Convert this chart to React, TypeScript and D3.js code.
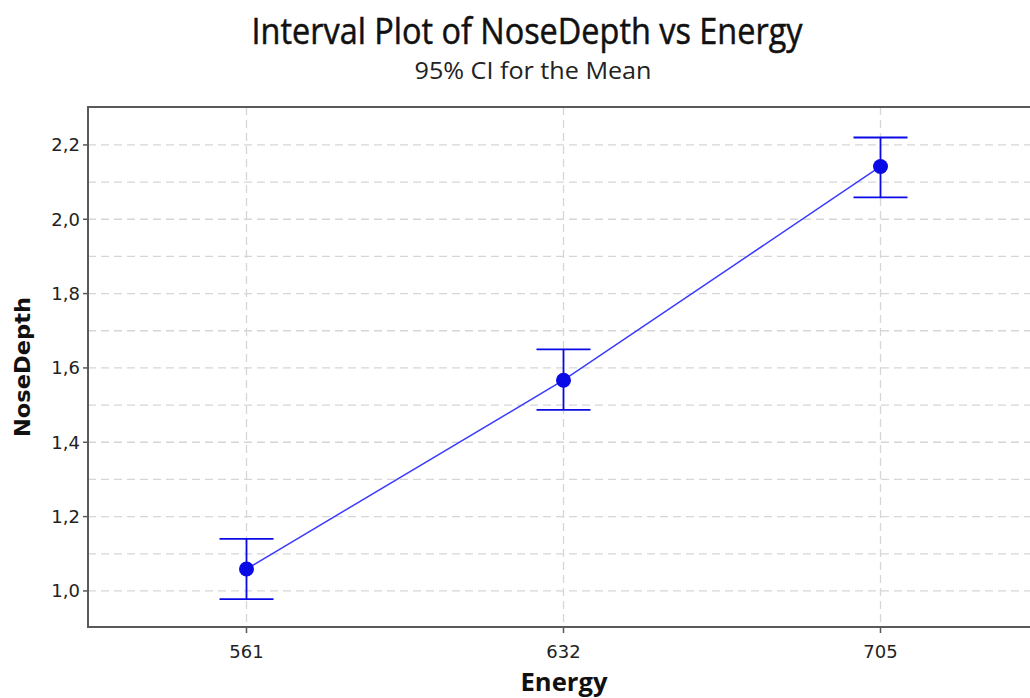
import React, { useEffect, useRef } from "react";
import * as d3 from "d3";

// Energy levels and the 95% confidence intervals of NoseDepth at each level
const energyLevels = ["561", "632", "705"];
const meanDepth = [1.059, 1.567, 2.142];
const lowerCI = [0.978, 1.487, 2.059];
const upperCI = [1.14, 1.65, 2.22];
const yTicks = [1.0, 1.2, 1.4, 1.6, 1.8, 2.0, 2.2];
const yMinorGrid = [1.1, 1.3, 1.5, 1.7, 1.9, 2.1];

const W = 1030;
const H = 698;
const margin = { left: 88, top: 107, right: -9, bottom: 71 };

export default function App() {
  const ref = useRef<SVGSVGElement | null>(null);

  useEffect(() => {
    const svg = d3.select(ref.current);
    svg.selectAll("*").remove();

    const x = d3
      .scaleBand<string>()
      .domain(energyLevels)
      .range([margin.left, W - margin.right]);
    const y = d3
      .scaleLinear()
      .domain([0.903, 2.302])
      .range([H - margin.bottom, margin.top]);
    const cx = (c: string) => (x(c) as number) + x.bandwidth() / 2;

    const blue = "#0a0ae6";
    const labelFont = "'DejaVu Sans', sans-serif";

    svg.append("rect").attr("width", W).attr("height", H).attr("fill", "#fff");

    // Titles
    svg
      .append("text")
      .attr("x", 527)
      .attr("y", 44)
      .attr("text-anchor", "middle")
      .attr("font-family", "'Open Sans', sans-serif")
      .attr("font-size", 36)
      .attr("textLength", 551)
      .attr("lengthAdjust", "spacingAndGlyphs")
      .attr("fill", "#111")
      .attr("stroke", "#111")
      .attr("stroke-width", 0.5)
      .text("Interval Plot of NoseDepth vs Energy");
    svg
      .append("text")
      .attr("x", 533)
      .attr("y", 79)
      .attr("text-anchor", "middle")
      .attr("font-family", "'Open Sans', sans-serif")
      .attr("font-size", 24)
      .attr("textLength", 237)
      .attr("lengthAdjust", "spacingAndGlyphs")
      .attr("fill", "#222")
      .text("95% CI for the Mean");

    const plot = svg.append("g");
    const x0 = margin.left;
    const x1 = W - margin.right;
    const yTop = margin.top;
    const yBot = H - margin.bottom;

    // Gridlines
    const gridColor = "#d6d6d6";
    [...yTicks, ...yMinorGrid].forEach((v) => {
      plot
        .append("line")
        .attr("x1", x0)
        .attr("x2", x1)
        .attr("y1", y(v))
        .attr("y2", y(v))
        .attr("stroke", gridColor)
        .attr("stroke-width", 1.3)
        .attr("stroke-dasharray", "8,5");
    });
    energyLevels.forEach((c) => {
      plot
        .append("line")
        .attr("x1", cx(c))
        .attr("x2", cx(c))
        .attr("y1", yTop)
        .attr("y2", yBot)
        .attr("stroke", gridColor)
        .attr("stroke-width", 1.3)
        .attr("stroke-dasharray", "8,5");
    });

    // Frame
    plot
      .append("rect")
      .attr("x", x0)
      .attr("y", yTop)
      .attr("width", x1 - x0)
      .attr("height", yBot - yTop)
      .attr("fill", "none")
      .attr("stroke", "#5a5a5a")
      .attr("stroke-width", 2);

    // Y axis ticks and labels
    yTicks.forEach((v) => {
      plot
        .append("line")
        .attr("x1", x0 - 5)
        .attr("x2", x0)
        .attr("y1", y(v))
        .attr("y2", y(v))
        .attr("stroke", "#5a5a5a")
        .attr("stroke-width", 1.5);
      plot
        .append("text")
        .attr("x", x0 - 8)
        .attr("y", y(v))
        .attr("dy", "0.36em")
        .attr("text-anchor", "end")
        .attr("font-family", labelFont)
        .attr("font-size", 18)
        .attr("fill", "#222")
        .text(d3.format(".1f")(v).replace(".", ","));
    });

    // X axis ticks and labels
    energyLevels.forEach((c) => {
      plot
        .append("line")
        .attr("x1", cx(c))
        .attr("x2", cx(c))
        .attr("y1", yBot)
        .attr("y2", yBot + 6)
        .attr("stroke", "#5a5a5a")
        .attr("stroke-width", 1.5);
      plot
        .append("text")
        .attr("x", cx(c))
        .attr("y", yBot + 31)
        .attr("text-anchor", "middle")
        .attr("font-family", labelFont)
        .attr("font-size", 18)
        .attr("fill", "#222")
        .text(c);
    });

    // Axis titles
    svg
      .append("text")
      .attr("x", 564)
      .attr("y", 691)
      .attr("text-anchor", "middle")
      .attr("font-family", "'Open Sans', sans-serif")
      .attr("font-weight", "bold")
      .attr("font-size", 25)
      .attr("textLength", 87)
      .attr("lengthAdjust", "spacingAndGlyphs")
      .attr("fill", "#111")
      .text("Energy");
    svg
      .append("text")
      .attr("transform", `translate(30,367) rotate(-90)`)
      .attr("text-anchor", "middle")
      .attr("font-family", labelFont)
      .attr("font-weight", "bold")
      .attr("font-size", 21)
      .attr("textLength", 140)
      .attr("lengthAdjust", "spacingAndGlyphs")
      .attr("fill", "#111")
      .text("NoseDepth");

    // Connecting line through the means
    const line = d3
      .line<number>()
      .x((_, i) => cx(energyLevels[i]))
      .y((d) => y(d));
    plot
      .append("path")
      .attr("d", line(meanDepth))
      .attr("fill", "none")
      .attr("stroke", "#3b3bff")
      .attr("stroke-width", 1.5);

    // Interval bars and mean markers
    energyLevels.forEach((c, i) => {
      const px = cx(c);
      const g = plot.append("g").attr("stroke", blue).attr("stroke-width", 1.8);
      g.append("line").attr("x1", px).attr("x2", px).attr("y1", y(lowerCI[i])).attr("y2", y(upperCI[i]));
      g.append("line").attr("x1", px - 27).attr("x2", px + 27).attr("y1", y(upperCI[i])).attr("y2", y(upperCI[i]));
      g.append("line").attr("x1", px - 27).attr("x2", px + 27).attr("y1", y(lowerCI[i])).attr("y2", y(lowerCI[i]));
      plot.append("circle").attr("cx", px).attr("cy", y(meanDepth[i])).attr("r", 7.5).attr("fill", blue);
    });
  }, []);

  return (
    <svg
      ref={ref}
      width={W}
      height={H}
      style={{ position: "absolute", left: 0, top: 0, display: "block" }}
    />
  );
}
